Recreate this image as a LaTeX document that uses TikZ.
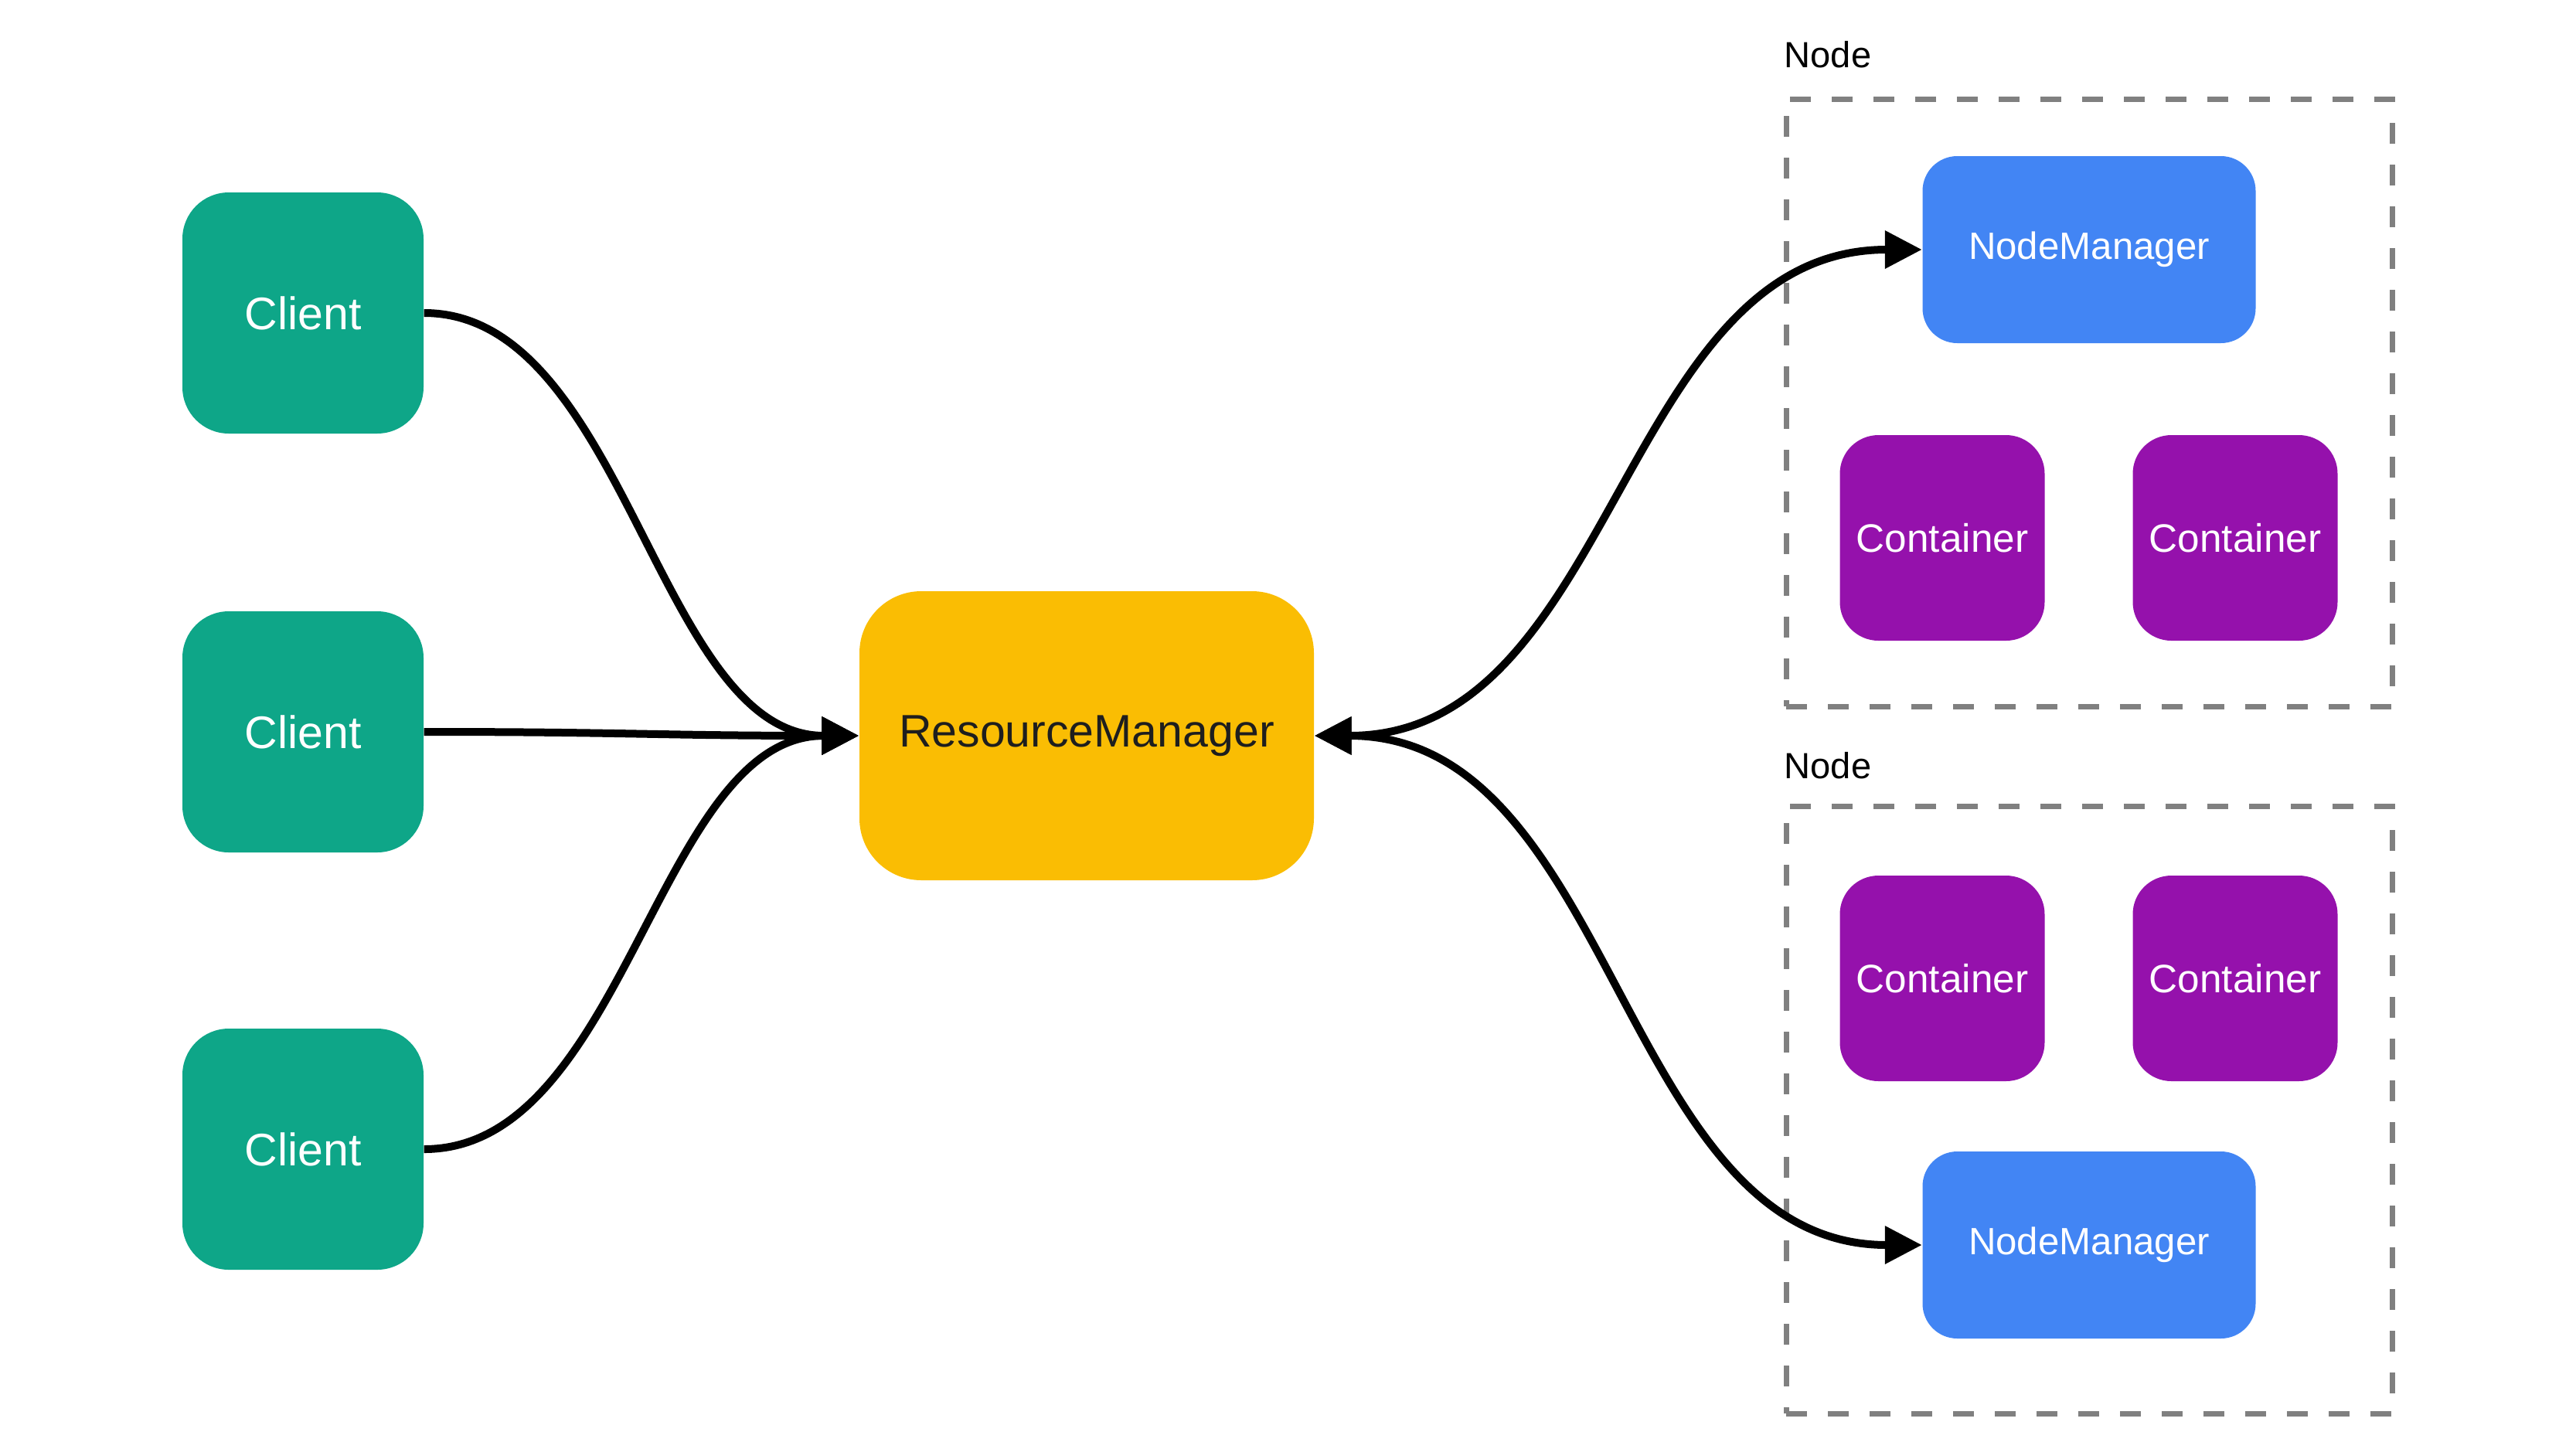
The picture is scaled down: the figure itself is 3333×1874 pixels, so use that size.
\documentclass[tikz,border=0pt]{standalone}
\usepackage{fontspec}
\setmainfont{Liberation Sans}
\usetikzlibrary{arrows.meta}
\definecolor{clientc}{HTML}{0EA688}
\definecolor{rmc}{HTML}{FABD03}
\definecolor{nmc}{HTML}{4285F4}
\definecolor{contc}{HTML}{9511AC}
\definecolor{dashc}{HTML}{808080}
\definecolor{rmtext}{HTML}{1E1E1E}
\begin{document}
\begin{tikzpicture}[x=0.1mm, y=-0.1mm,
  clientbox/.style={rectangle, rounded corners=6mm, fill=clientc, text=white,
    minimum width=31.2mm, minimum height=31.2mm, inner sep=0pt,
    font=\fontsize{16.8}{20}\selectfont},
  rmbox/.style={rectangle, rounded corners=8mm, fill=rmc, text=rmtext,
    minimum width=58.8mm, minimum height=37.4mm, inner sep=0pt,
    font=\fontsize{16.8}{20}\selectfont},
  nmbox/.style={rectangle, rounded corners=4.5mm, fill=nmc, text=white,
    minimum width=43.1mm, minimum height=24.2mm, inner sep=0pt,
    font=\fontsize{14}{17}\selectfont},
  contbox/.style={rectangle, rounded corners=5mm, fill=contc, text=white,
    minimum width=26.5mm, minimum height=26.6mm, inner sep=0pt,
    font=\fontsize{14.6}{17}\selectfont},
  groupbox/.style={rectangle, draw=dashc, line width=0.7mm,
    dash pattern=on 2.7mm off 2.7mm, minimum width=78.4mm, minimum height=78.6mm,
    inner sep=0pt},
  grouplabel/.style={anchor=base west, inner sep=0pt, text=black,
    font=\fontsize{13.4}{16}\selectfont},
  arr/.style={line width=1mm, draw=black,
    -{Triangle[length=4.8mm, width=4.7mm]}},
  darr/.style={line width=1mm, draw=black,
    {Triangle[length=4.8mm, width=4.7mm]}-{Triangle[length=4.8mm, width=4.7mm]}}
]
\useasboundingbox (0,0) rectangle (3333,1874);

% groups
\node[groupbox] (g1) at (2703,521) {};
\node[groupbox] (g2) at (2703,1436) {};
\node[grouplabel] (l1) at (2308,87) {Node};
\node[grouplabel] (l2) at (2308,1007) {Node};

% clients
\node[clientbox] (c1) at (392,405) {Client};
\node[clientbox] (c2) at (392,947) {Client};
\node[clientbox] (c3) at (392,1487) {Client};

% resource manager
\node[rmbox] (rm) at (1406,952) {ResourceManager};

% node 1
\node[nmbox] (nm1) at (2703,323) {NodeManager};
\node[contbox] (k1a) at (2513,696) {Container};
\node[contbox] (k1b) at (2892,696) {Container};

% node 2
\node[contbox] (k2a) at (2513,1266) {Container};
\node[contbox] (k2b) at (2892,1266) {Container};
\node[nmbox] (nm2) at (2703,1611) {NodeManager};

% connectors
\draw[arr] (c1.east) .. controls +(260,0) and +(-260,0) .. (rm.west);
\draw[arr] (c2.east) .. controls +(260,0) and +(-260,0) .. (rm.west);
\draw[arr] (c3.east) .. controls +(260,0) and +(-260,0) .. (rm.west);
\draw[darr] (rm.east) .. controls +(390,0) and +(-390,0) .. (nm1.west);
\draw[darr] (rm.east) .. controls +(390,0) and +(-390,0) .. (nm2.west);
\end{tikzpicture}
\end{document}
